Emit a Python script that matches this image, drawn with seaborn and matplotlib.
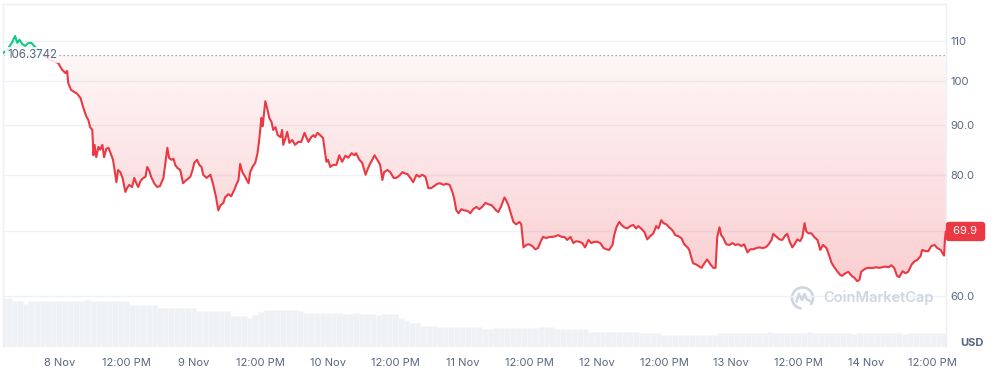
import numpy as np
import matplotlib
matplotlib.use("Agg")
import matplotlib.pyplot as plt
import matplotlib.transforms as mtrans
from matplotlib.patches import Arc
from matplotlib.lines import Line2D
from matplotlib.ticker import NullLocator
import seaborn as sns

# ---------------- data ----------------
# hours since 8 Nov 00:00
hours = [
    -10.0, -9.3, -8.4, -7.9, -7.5, -7.1, -6.6, -6.1, -5.5, -5.0,
    -4.6, -3.8, -2.7, -1.6, -0.7, -0.2, 0.2, 0.5, 1.1, 1.4,
    1.6, 2.1, 2.7, 3.2, 3.8, 4.3, 4.8, 5.2, 5.5, 5.9,
    6.1, 6.3, 6.6, 7.0, 7.3, 7.7, 8.0, 8.4, 8.8, 9.3,
    9.6, 10.2, 10.5, 10.9, 11.3, 11.8, 12.1, 12.5, 13.0, 13.4,
    13.8, 14.1, 14.5, 15.0, 15.4, 15.7, 16.1, 16.4, 17.0, 17.5,
    18.0, 18.6, 18.9, 19.3, 19.6, 20.0, 20.4, 20.7, 21.1, 21.6,
    22.1, 22.7, 23.4, 23.8, 24.1, 24.6, 25.0, 25.4, 25.7, 26.3,
    27.0, 27.5, 28.0, 28.4, 28.8, 29.3, 29.6, 30.2, 30.7, 31.3,
    31.6, 32.0, 32.3, 32.7, 33.2, 33.8, 34.1, 34.5, 35.0, 35.4,
    35.7, 36.1, 36.3, 36.4, 36.8, 37.2, 37.5, 37.9, 38.2, 38.6,
    39.0, 39.5, 39.8, 40.0, 40.4, 40.7, 41.1, 41.6, 42.1, 42.7,
    43.2, 43.8, 44.1, 44.5, 45.0, 45.4, 45.7, 46.1, 46.6, 47.1,
    47.7, 48.0, 48.4, 48.9, 49.5, 50.0, 50.5, 51.1, 51.6, 52.2,
    52.7, 53.0, 53.6, 54.1, 54.7, 55.0, 55.4, 55.9, 56.3, 56.8,
    57.3, 57.7, 58.0, 58.6, 59.1, 59.7, 60.2, 60.7, 61.3, 61.6,
    62.2, 62.7, 63.2, 63.8, 64.3, 64.8, 65.4, 65.9, 66.4, 67.0,
    67.5, 68.0, 68.6, 69.1, 69.7, 70.2, 70.5, 70.9, 71.3, 71.8,
    72.3, 72.9, 73.4, 73.9, 74.5, 75.0, 75.5, 76.1, 76.6, 77.2,
    77.5, 78.0, 78.4, 78.9, 79.5, 79.8, 80.2, 80.7, 81.1, 81.6,
    82.2, 82.5, 82.9, 83.4, 83.9, 84.5, 85.0, 85.5, 86.1, 86.4,
    87.0, 87.5, 88.0, 88.6, 89.1, 89.7, 90.2, 90.7, 91.3, 91.8,
    92.3, 92.9, 93.4, 93.9, 94.5, 95.0, 95.5, 96.1, 96.6, 97.2,
    97.7, 98.2, 98.8, 99.1, 99.5, 100.0, 100.4, 100.9, 101.4, 102.0,
    102.5, 103.0, 103.4, 103.9, 104.5, 105.0, 105.5, 106.1, 106.6, 107.0,
    107.5, 107.9, 108.4, 108.9, 109.5, 110.0, 110.6, 111.1, 111.6, 112.2,
    112.5, 112.9, 113.2, 113.8, 114.3, 114.7, 115.2, 115.7, 116.3, 116.8,
    117.2, 117.5, 117.9, 118.2, 118.6, 119.1, 119.7, 120.2, 120.7, 121.3,
    121.8, 122.3, 122.9, 123.4, 123.9, 124.5, 125.0, 125.6, 126.1, 126.6,
    127.2, 127.5, 128.1, 128.6, 129.1, 129.7, 130.0, 130.4, 130.9, 131.3,
    131.8, 132.3, 132.7, 133.1, 133.4, 133.8, 134.3, 134.8, 135.4, 135.9,
    136.4, 137.0, 137.3, 137.9, 138.4, 139.0, 139.5, 139.8, 140.4, 140.9,
    141.5, 142.0, 142.5, 142.9, 143.2, 143.8, 144.3, 144.8, 145.4, 145.9,
    146.4, 147.0, 147.5, 148.1, 148.6, 149.1, 149.6, 150.0, 150.6, 151.1,
    151.6, 152.2, 152.7, 153.2, 153.8, 154.1, 154.7, 155.2, 155.7, 156.3,
    156.8, 157.4, 157.7, 158.0, 158.15, 158.3,
]

price = [
    106.9, 107.7, 109.7, 111.3, 109.5, 110.3, 109.2, 108.7, 109.5, 109.5,
    108.9, 107.7, 106.1, 105.1, 104.6, 104.4, 103.4, 102.7, 101.9, 102.4,
    99.5, 97.9, 97.4, 97.0, 96.0, 93.8, 92.0, 91.1, 89.6, 89.0,
    83.8, 85.9, 83.4, 85.5, 84.9, 85.9, 83.4, 85.1, 85.3, 83.8,
    82.9, 78.6, 80.9, 80.5, 79.4, 76.8, 77.5, 78.1, 77.7, 79.4,
    78.3, 77.7, 78.8, 79.4, 79.6, 81.5, 80.7, 79.6, 78.3, 77.7,
    77.9, 79.4, 81.9, 85.3, 83.3, 82.9, 83.1, 81.9, 81.3, 80.9,
    78.4, 79.0, 79.6, 80.9, 82.3, 82.9, 81.9, 81.5, 80.0, 79.4,
    80.0, 78.1, 75.8, 73.5, 74.4, 74.8, 75.8, 76.4, 76.0, 77.3,
    78.1, 79.0, 82.1, 80.5, 79.6, 78.4, 80.5, 81.5, 82.3, 84.2,
    86.9, 91.6, 89.8, 90.7, 95.3, 93.3, 91.6, 90.7, 89.0, 89.6,
    87.9, 87.5, 89.0, 85.9, 87.3, 88.6, 86.3, 86.9, 85.9, 86.5,
    86.5, 88.4, 87.5, 86.5, 87.5, 87.9, 87.5, 88.4, 87.9, 87.3,
    82.5, 82.9, 81.5, 81.9, 81.9, 83.8, 82.5, 83.7, 83.3, 84.2,
    83.8, 84.2, 82.9, 82.3, 80.0, 80.9, 81.9, 82.9, 83.8, 82.9,
    81.9, 79.0, 80.5, 80.9, 80.5, 79.4, 79.4, 79.8, 80.5, 80.3,
    80.1, 79.4, 78.6, 80.0, 79.6, 80.0, 79.6, 77.5, 77.5, 77.9,
    78.3, 78.4, 78.1, 78.3, 78.1, 76.8, 75.7, 73.5, 73.0, 73.7,
    73.5, 73.4, 73.0, 73.7, 74.1, 73.7, 74.1, 74.8, 74.6, 74.4,
    74.1, 73.5, 73.2, 74.2, 75.8, 75.3, 74.4, 72.8, 71.5, 71.1,
    71.5, 71.1, 67.3, 67.7, 67.8, 67.5, 67.0, 67.2, 68.5, 69.0,
    68.8, 69.0, 69.0, 69.1, 69.3, 69.0, 69.0, 68.5, 69.0, 68.0,
    68.3, 68.2, 68.0, 67.3, 68.5, 68.0, 68.2, 68.2, 68.0, 67.2,
    67.0, 66.9, 67.7, 69.3, 70.6, 71.5, 71.0, 70.6, 70.4, 70.8,
    71.0, 70.4, 70.8, 70.4, 69.8, 68.6, 69.1, 69.6, 70.8, 70.4,
    71.8, 71.3, 71.1, 70.6, 70.1, 69.3, 69.1, 68.8, 67.8, 67.3,
    66.9, 65.6, 64.8, 64.6, 64.3, 64.1, 64.8, 65.4, 64.6, 64.1,
    64.1, 69.0, 70.6, 69.3, 68.8, 67.8, 67.7, 68.0, 67.7, 67.8,
    67.5, 67.8, 66.5, 67.0, 67.0, 67.2, 67.3, 67.2, 67.3, 67.7,
    68.5, 69.5, 69.0, 68.6, 68.5, 69.3, 69.5, 68.3, 67.3, 67.8,
    68.6, 68.3, 69.0, 71.3, 69.9, 69.6, 69.6, 69.0, 68.5, 66.9,
    67.7, 67.2, 66.5, 64.9, 64.2, 63.5, 63.0, 62.9, 63.3, 63.5,
    62.9, 62.6, 62.1, 62.3, 63.5, 63.9, 64.1, 64.1, 64.1, 64.2,
    64.1, 64.2, 64.3, 64.2, 64.5, 64.1, 62.9, 62.7, 63.6, 63.3,
    63.5, 64.6, 65.1, 65.3, 65.9, 66.9, 66.7, 66.7, 67.5, 67.7,
    67.2, 66.9, 66.4, 66.0, 68.5, 69.9,
]

baseline = 106.3742
last_price = 69.9

# hourly volume (relative units), hours -10 .. 158
vol_hours = list(range(-10, 159))
volume = [
    49, 49, 46, 46, 43, 46, 46, 46, 46, 46,
    46, 46, 46, 46, 46, 47, 46, 46, 46, 46,
    46, 46, 46, 42, 42, 42, 42, 42, 39, 39,
    39, 39, 39, 39, 39, 36, 36, 36, 36, 36,
    36, 31, 31, 31, 29, 32, 35, 37, 37, 37,
    37, 37, 37, 36, 34, 34, 34, 34, 34, 34,
    34, 33, 33, 34, 33, 33, 33, 32, 33, 33,
    33, 29, 26, 24, 24, 21, 21, 21, 20, 20,
    20, 20, 20, 20, 20, 20, 18, 18, 19, 19,
    19, 19, 19, 19, 19, 19, 20, 20, 20, 18,
    18, 18, 18, 18, 18, 15, 15, 15, 15, 15,
    15, 15, 15, 15, 14, 14, 14, 14, 12, 12,
    12, 12, 12, 12, 12, 12, 12, 12, 14, 14,
    14, 14, 14, 14, 14, 14, 14, 15, 14, 14,
    14, 14, 14, 14, 15, 14, 14, 14, 14, 14,
    14, 14, 13, 14, 14, 14, 14, 14, 14, 14,
    14, 13, 14, 14, 14, 14, 14, 14, 14,
]

x_ticks = [0, 12, 24, 36, 48, 60, 72, 84, 96, 108, 120, 132, 144, 156]
x_labels = ["8 Nov", "12:00 PM", "9 Nov", "12:00 PM", "10 Nov", "12:00 PM",
            "11 Nov", "12:00 PM", "12 Nov", "12:00 PM", "13 Nov", "12:00 PM",
            "14 Nov", "12:00 PM"]
y_ticks = [60, 70, 80, 90, 100, 110]
# the 70 label sits under the last-price box in the reference
y_labels = ["60.0", "", "80.0", "90.0", "100", "110"]

assert len(hours) == len(price)
assert len(vol_hours) == len(volume)

# ---------------- style ----------------
RED = "#ea3943"
GREEN = "#16c784"
TXT = "#58667e"
GRID = "#eff2f5"

sns.set_theme(style="white")
plt.rcParams["font.family"] = ["Inter", "DejaVu Sans"]

fig = plt.figure(figsize=(9.98, 3.70), dpi=100)
fig.patch.set_facecolor("white")
ax = fig.add_axes([3 / 998, 23 / 370, 943 / 998, 343 / 370])
ax2 = ax.twinx()
ax.set_zorder(ax2.get_zorder() + 1)
ax.patch.set_visible(False)

# volume bars
sns.histplot(x=vol_hours, weights=volume, discrete=True, shrink=1.0, ax=ax2,
             color="#eef1f5", edgecolor="#f5f7f9", linewidth=0.4, alpha=1.0)
ax2.set_ylim(0, 343)
ax2.set_yticks([])
ax2.set_ylabel("")
for s in ax2.spines.values():
    s.set_visible(False)

# split series at baseline crossing
n_green = 13
h_green, p_green = hours[:n_green], price[:n_green]
h_red, p_red = hours[n_green - 1:], price[n_green - 1:]

ax.set_yscale("log")
XL = (-10.05, 158.35)
YL = (53.1, 120.1)

# gradient fill under baseline
poly = ax.fill_between(h_red, p_red, baseline, color="none", linewidth=0)
grad = np.zeros((256, 1, 4))
grad[:, 0, 0] = 234 / 255
grad[:, 0, 1] = 57 / 255
grad[:, 0, 2] = 67 / 255
grad[:, 0, 3] = np.linspace(0.0, 0.30, 256)
im = ax.imshow(grad, extent=[0, 1, 0, 1], transform=ax.transAxes,
               aspect="auto", zorder=1.5, interpolation="bilinear")
im.set_clip_path(poly.get_paths()[0], transform=ax.transData)

ax.fill_between(h_green, p_green, baseline, where=[p >= baseline for p in p_green],
                interpolate=True, color=GREEN, alpha=0.08, linewidth=0)

# baseline dotted
ax.axhline(baseline, color="#8a94a6", linestyle=(0, (1, 2.2)), linewidth=0.9, zorder=2)

# price lines
sns.lineplot(x=h_green, y=p_green, ax=ax, color=GREEN, linewidth=1.5,
             estimator=None, sort=False, zorder=3)
sns.lineplot(x=h_red, y=p_red, ax=ax, color=RED, linewidth=1.5,
             estimator=None, sort=False, zorder=3)

ax.set_xlim(*XL)
ax.set_ylim(*YL)

# axes
ax.set_yticks(y_ticks)
ax.set_yticklabels(y_labels)
ax.yaxis.set_minor_locator(NullLocator())
ax.yaxis.tick_right()
ax.set_xticks(x_ticks)
ax.set_xticklabels(x_labels)
ax.tick_params(axis="y", length=0, pad=3, labelsize=8, labelcolor=TXT)
ax.tick_params(axis="x", length=0, pad=8, labelsize=8, labelcolor=TXT)
ax.set_xlabel("")
ax.set_ylabel("")
ax.grid(axis="y", color=GRID, linewidth=1.0, zorder=0)
ax.grid(axis="x", visible=False)
for side in ["left", "top", "right"]:
    ax.spines[side].set_color("#eceff3")
    ax.spines[side].set_linewidth(1.0)
ax.spines["bottom"].set_visible(False)

blend = mtrans.blended_transform_factory(ax.transAxes, ax.transData)

# baseline label
ax.text(0.0042, baseline, "106.3742", transform=blend, ha="left", va="center",
        fontsize=8.3, color=TXT, zorder=4,
        bbox=dict(facecolor="white", edgecolor="none", alpha=0.85, pad=1.5))

# last price box
ax.annotate(" 69.9 ", xy=(1.0, last_price), xycoords=blend, xytext=(3.2, 0),
            textcoords="offset points", ha="left", va="center", fontsize=8,
            color="white", zorder=10, annotation_clip=False,
            bbox=dict(boxstyle="round,pad=0.42,rounding_size=0.3",
                      facecolor=RED, edgecolor="none"))

# USD label
fig.text(960 / 998, 1 - 343 / 370, "USD", ha="left", va="center", fontsize=8,
         fontweight="bold", color=TXT)

# watermark
WM = "#cfd6e3"
fig.text(823 / 998, 1 - 298 / 370, "CoinMarketCap", ha="left", va="center",
         fontsize=10.5, fontweight="semibold", color=WM)
tr = fig.dpi_scale_trans
cx, cy, r = 8.025, (370 - 298) / 100, 0.105
fig.add_artist(Arc((cx, cy), 2 * r, 2 * r, theta1=-40, theta2=265,
                   transform=tr, color=WM, linewidth=1.9))
fig.add_artist(Line2D([cx - 0.06, cx - 0.035, cx - 0.005, cx + 0.02, cx + 0.04, cx + 0.075],
                      [cy - 0.035, cy + 0.04, cy - 0.02, cy + 0.04, cy - 0.01, cy - 0.03],
                      transform=tr, color=WM, linewidth=1.9, solid_joinstyle="round"))

fig.savefig("out.png", dpi=100, facecolor="white")
